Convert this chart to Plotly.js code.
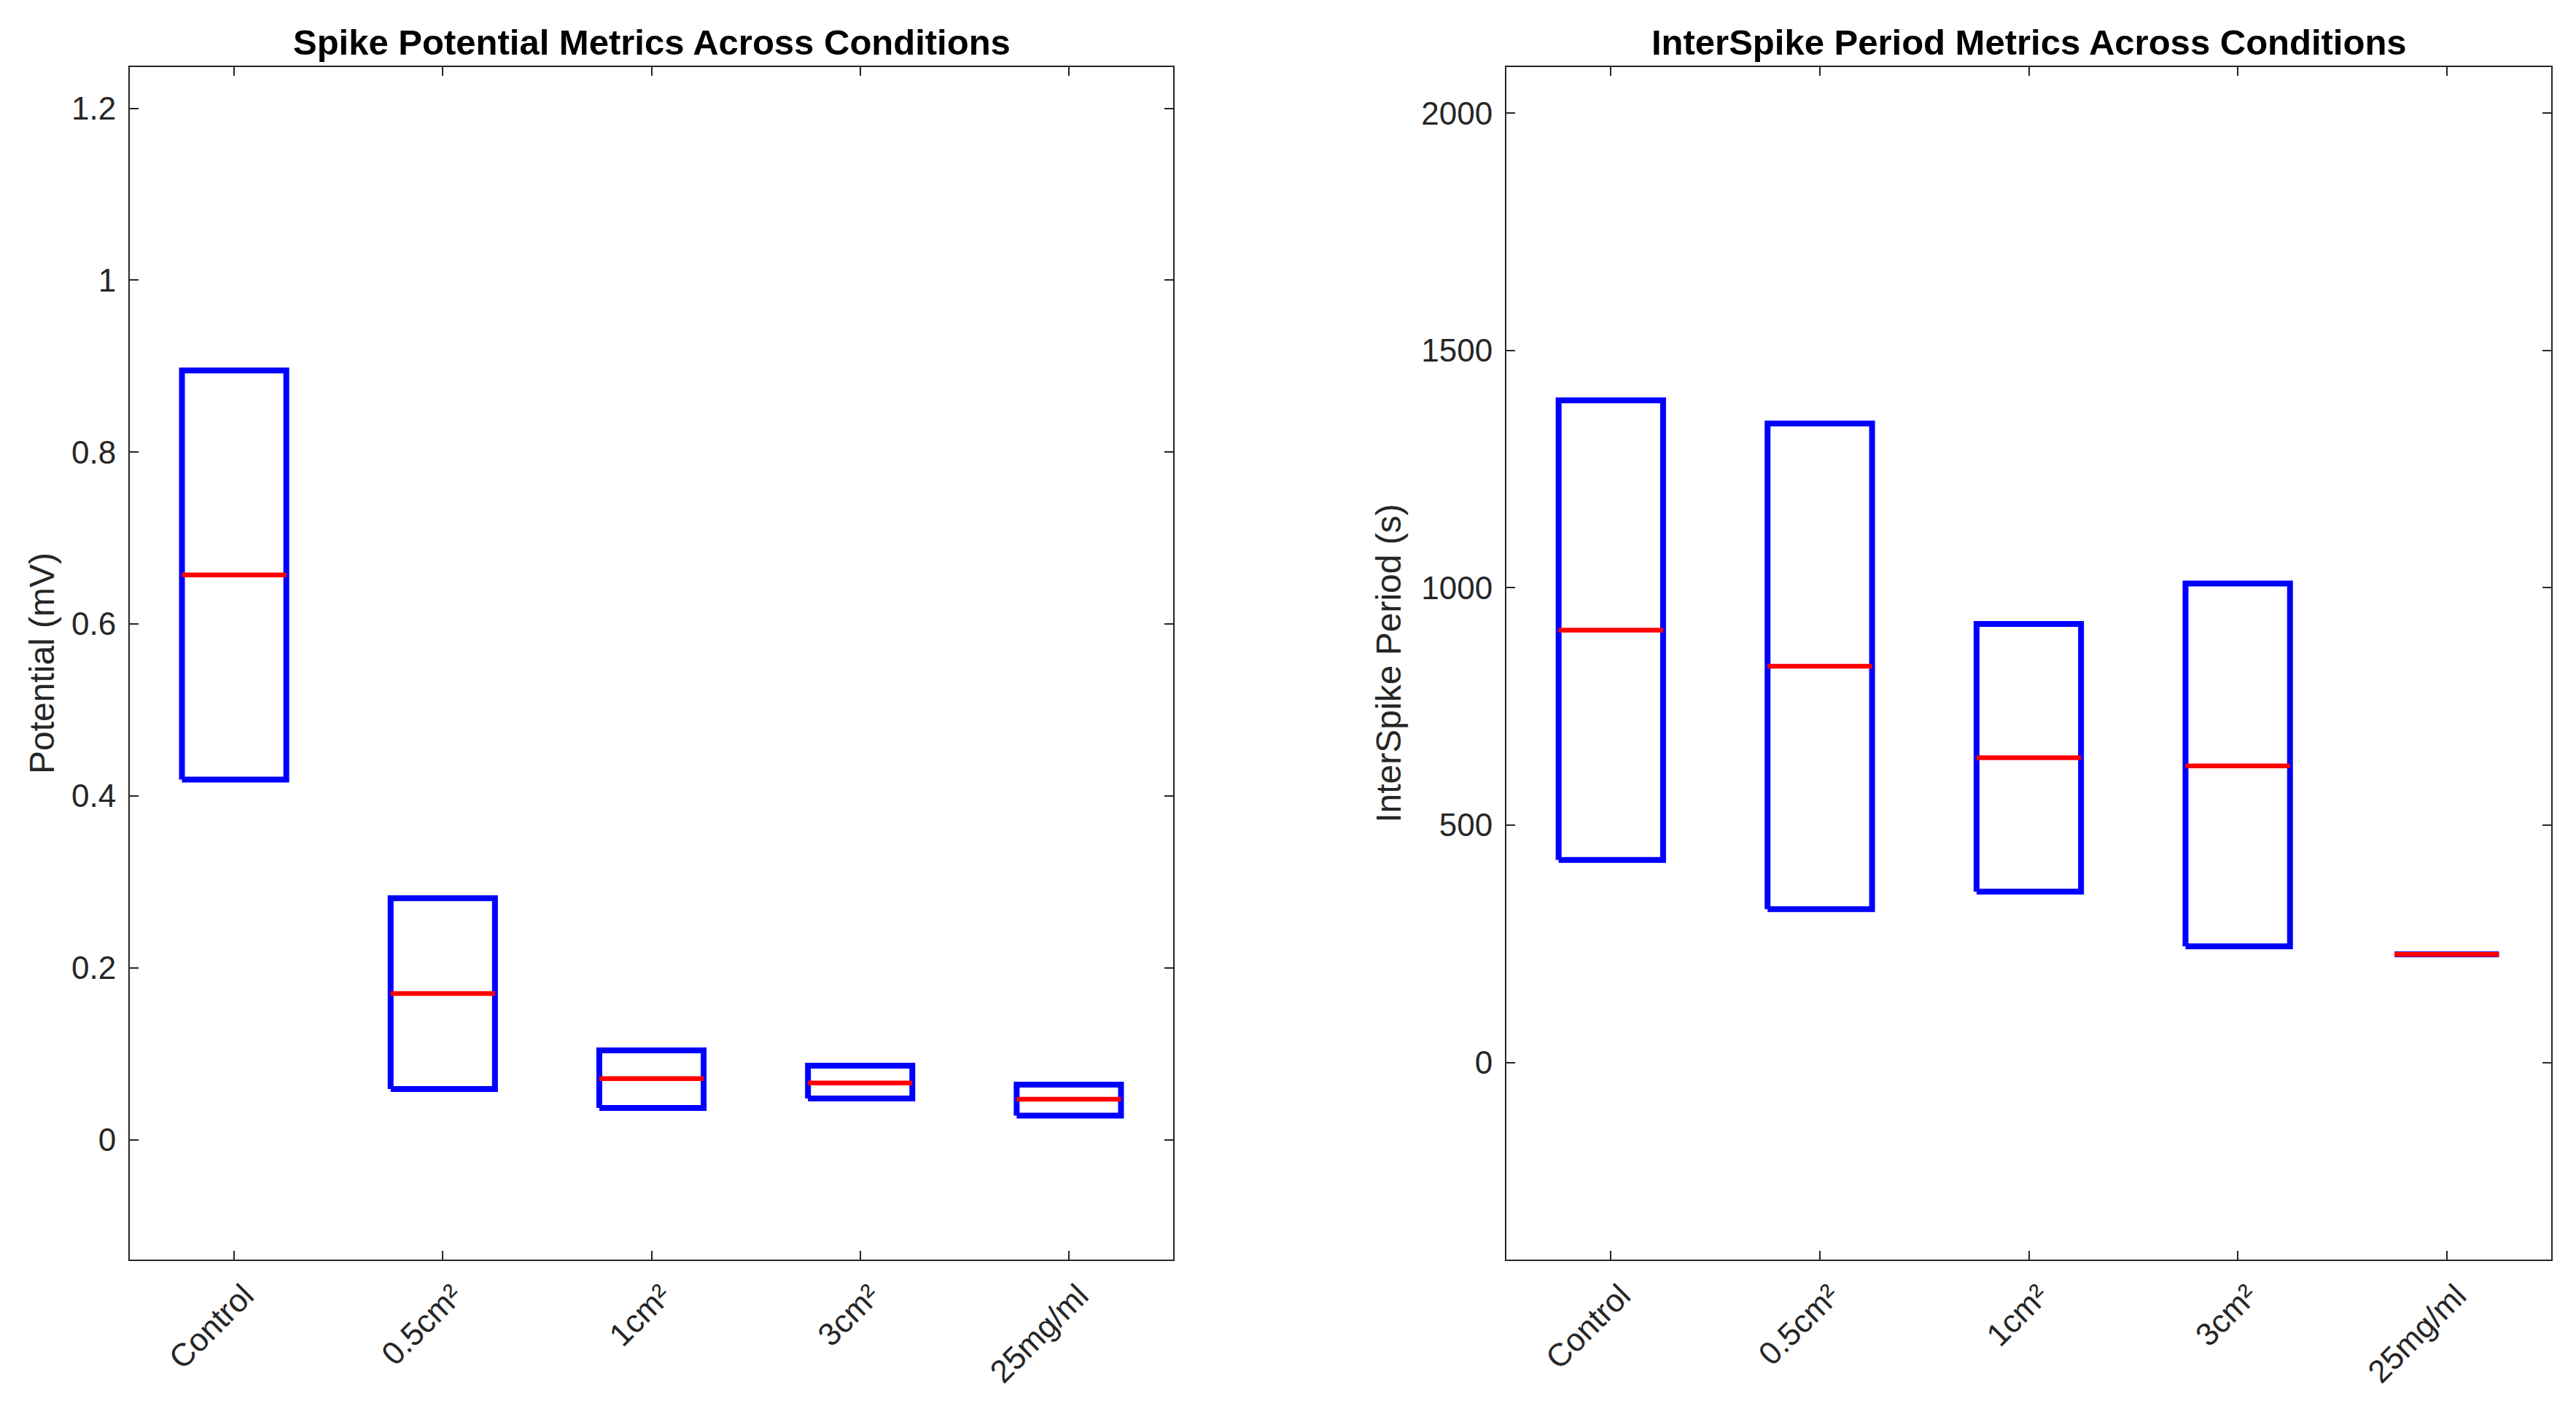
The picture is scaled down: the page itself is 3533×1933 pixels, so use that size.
<!DOCTYPE html>
<html>
<head>
<meta charset="utf-8">
<script src="https://cdn.plot.ly/plotly-3.0.1.min.js"></script>
<style>html,body{margin:0;padding:0;background:#fff;}#chart{width:3533px;height:1933px;}</style>
</head>
<body>
<div id="chart"></div>
<script>
// ---- data ----
const categories = ['Control', '0.5cm²', '1cm²', '3cm²', '25mg/ml'];

// Spike potential (mV)
const potentialLower  = [0.419, 0.059, 0.037, 0.048, 0.028];
const potentialMedian = [0.657, 0.170, 0.071, 0.066, 0.047];
const potentialUpper  = [0.895, 0.281, 0.104, 0.086, 0.064];

// InterSpike period (s)
const periodLower  = [427, 323, 360, 245, 228];
const periodMedian = [911, 835, 642, 625, 228];
const periodUpper  = [1395, 1346, 924, 1009, 228];

const potentialTicks = [0, 0.2, 0.4, 0.6, 0.8, 1, 1.2];
const periodTicks = [0, 500, 1000, 1500, 2000];

// ---- styles ----
const HALF = 0.25;
const BLUE = '#0000FF';
const RED = '#FF0000';
const AX = '#262626';
const FONT = 'Liberation Sans, Arial, Helvetica, sans-serif';

function boxTraces(lower, median, upper, xa, ya) {
  const bx = [], by = [], mx = [], my = [];
  for (let i = 0; i < lower.length; i++) {
    const c = i + 1;
    bx.push(c - HALF, c + HALF, c + HALF, c - HALF, c - HALF, null);
    by.push(lower[i], lower[i], upper[i], upper[i], lower[i], null);
    mx.push(c - HALF, c + HALF, null);
    my.push(median[i], median[i], null);
  }
  return [
    {x: bx, y: by, xaxis: xa, yaxis: ya, type: 'scatter', mode: 'lines',
     line: {color: BLUE, width: 8}, hoverinfo: 'skip', showlegend: false},
    {x: mx, y: my, xaxis: xa, yaxis: ya, type: 'scatter', mode: 'lines',
     line: {color: RED, width: 6.5}, hoverinfo: 'skip', showlegend: false}
  ];
}

const traces = [].concat(
  boxTraces(potentialLower, potentialMedian, potentialUpper, 'x', 'y'),
  boxTraces(periodLower, periodMedian, periodUpper, 'x2', 'y2')
);

const catIdx = categories.map((c, i) => i + 1);

function xAxis(domain, anchor) {
  return {
    domain: domain, anchor: anchor, range: [0.5, 5.5],
    tickvals: catIdx, ticktext: categories, tickangle: -45,
    ticks: 'inside', ticklen: 12, tickwidth: 2, tickcolor: AX,
    showline: true, linecolor: AX, linewidth: 2, mirror: 'ticks',
    showgrid: false, zeroline: false,
    ticklabelshift: 14, ticklabelstandoff: 4,
    tickfont: {family: FONT, size: 44, color: AX}
  };
}
function yAxis(domain, anchor, range, ticks, title, standoff) {
  return {
    domain: domain, anchor: anchor, range: range,
    tickvals: ticks,
    ticks: 'inside', ticklen: 12, tickwidth: 2, tickcolor: AX,
    showline: true, linecolor: AX, linewidth: 2, mirror: 'ticks',
    showgrid: false, zeroline: false,
    tickfont: {family: FONT, size: 44, color: AX},
    ticklabelstandoff: 8,
    title: {text: title, font: {family: FONT, size: 48, color: AX}, standoff: standoff}
  };
}

const yDom = [1 - 1728 / 1933, 1 - 92 / 1933];
const x1Dom = [178 / 3533, 1609 / 3533];
const x2Dom = [2066 / 3533, 3499 / 3533];

const layout = {
  width: 3533, height: 1933,
  margin: {l: 0, r: 0, t: 0, b: 0},
  paper_bgcolor: '#ffffff', plot_bgcolor: '#ffffff',
  showlegend: false,
  xaxis: xAxis(x1Dom, 'y'),
  yaxis: yAxis(yDom, 'x', [-0.1395, 1.248], potentialTicks, 'Potential (mV)', 8),
  xaxis2: xAxis(x2Dom, 'y2'),
  yaxis2: yAxis(yDom, 'x2', [-415, 2097], periodTicks, 'InterSpike Period (s)', 13),
  annotations: [
    {text: '<b>Spike Potential Metrics Across Conditions</b>', xref: 'paper', yref: 'paper',
     x: (x1Dom[0] + x1Dom[1]) / 2, y: yDom[1], xanchor: 'center', yanchor: 'bottom', yshift: 5,
     showarrow: false, font: {family: FONT, size: 49, color: '#000000'}},
    {text: '<b>InterSpike Period Metrics Across Conditions</b>', xref: 'paper', yref: 'paper',
     x: (x2Dom[0] + x2Dom[1]) / 2, y: yDom[1], xanchor: 'center', yanchor: 'bottom', yshift: 5,
     showarrow: false, font: {family: FONT, size: 49, color: '#000000'}}
  ]
};

Plotly.newPlot('chart', traces, layout, {displayModeBar: false, staticPlot: true});
</script>
</body>
</html>
